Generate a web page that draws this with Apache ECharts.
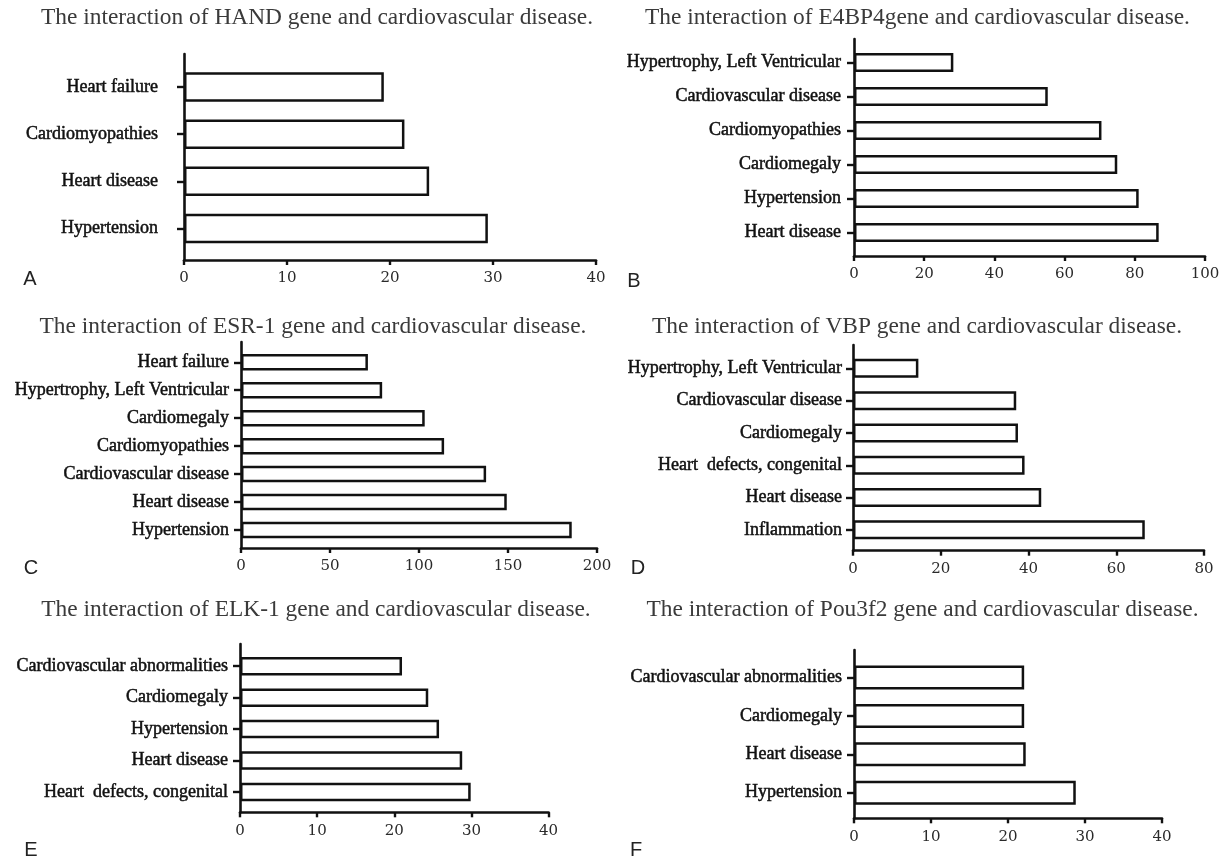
<!DOCTYPE html>
<html>
<head>
<meta charset="utf-8">
<script src="https://cdn.jsdelivr.net/npm/echarts@6/dist/echarts.min.js"></script>
<style>
html,body{margin:0;padding:0;background:#fff;}
#chart{width:1225px;height:858px;}
</style>
</head>
<body>
<div id="chart"></div>
<script>
// ---------- data ----------
const titleA = "The interaction of HAND gene and cardiovascular disease.";
const catsA = ["Heart failure", "Cardiomyopathies", "Heart disease", "Hypertension"];
const valsA = [19.4, 21.4, 23.8, 29.5];

const titleB = "The interaction of E4BP4gene and cardiovascular disease.";
const catsB = ["Hypertrophy, Left Ventricular", "Cardiovascular disease", "Cardiomyopathies", "Cardiomegaly", "Hypertension", "Heart disease"];
const valsB = [28.3, 55.2, 70.5, 75.0, 81.1, 86.8];

const titleC = "The interaction of ESR-1 gene and cardiovascular disease.";
const catsC = ["Heart failure", "Hypertrophy, Left Ventricular", "Cardiomegaly", "Cardiomyopathies", "Cardiovascular disease", "Heart disease", "Hypertension"];
const valsC = [71.3, 79.3, 103.2, 114.1, 137.7, 149.3, 185.8];

const titleD = "The interaction of VBP gene and cardiovascular disease.";
const catsD = ["Hypertrophy, Left Ventricular", "Cardiovascular disease", "Cardiomegaly", "Heart  defects, congenital", "Heart disease", "Inflammation"];
const valsD = [14.9, 37.2, 37.6, 39.1, 42.9, 66.5];

const titleE = "The interaction of ELK-1 gene and cardiovascular disease.";
const catsE = ["Cardiovascular abnormalities", "Cardiomegaly", "Hypertension", "Heart disease", "Heart  defects, congenital"];
const valsE = [21.0, 24.4, 25.8, 28.8, 29.9];

const titleF = "The interaction of Pou3f2 gene and cardiovascular disease.";
const catsF = ["Cardiovascular abnormalities", "Cardiomegaly", "Heart disease", "Hypertension"];
const valsF = [22.1, 22.1, 22.3, 28.8];

const axisMax = [40, 100, 200, 80, 40, 40];
const axisInterval = [10, 20, 50, 20, 10, 10];
const panelLetters = ["A", "B", "C", "D", "E", "F"];

// ---------- layout (pixels) ----------
const panels = [
  {title: titleA, cats: catsA, vals: valsA, left: 184, width: 412, oTop: 54,  oH: 206,   iTop: 63.5,  iH: 188.5, barW: 29.5, lblMargin: 26, tx: 317,   ty: 18,  lx: 30,  ly: 279},
  {title: titleB, cats: catsB, vals: valsB, left: 854, width: 351, oTop: 39,  oH: 217,   iTop: 45.5,  iH: 204,   barW: 19,   lblMargin: 13, tx: 917.5, ty: 18,  lx: 634, ly: 281},
  {title: titleC, cats: catsC, vals: valsC, left: 241, width: 356, oTop: 342, oH: 206,   iTop: 348.3, iH: 195.7, barW: 16.5, lblMargin: 12, tx: 313,   ty: 327, lx: 31,  ly: 568},
  {title: titleD, cats: catsD, vals: valsD, left: 853, width: 351, oTop: 345, oH: 205.7, iTop: 352.2, iH: 193.8, barW: 19,   lblMargin: 11, tx: 917,   ty: 327, lx: 638, ly: 568},
  {title: titleE, cats: catsE, vals: valsE, left: 240, width: 308.6, oTop: 644, oH: 168.3, iTop: 650.5, iH: 157.2, barW: 18.5, lblMargin: 12, tx: 316,   ty: 610, lx: 31,  ly: 850},
  {title: titleF, cats: catsF, vals: valsF, left: 854, width: 308, oTop: 650, oH: 168.3, iTop: 658.3, iH: 153.6, barW: 24,   lblMargin: 12, tx: 922.5, ty: 610, lx: 636, ly: 850}
];

const INK = '#111';
const grids = [], xAxes = [], yAxes = [], series = [], graphics = [];

panels.forEach((p, i) => {
  const go = 2 * i, gi = 2 * i + 1;
  grids.push({left: p.left, top: p.oTop, width: p.width, height: p.oH, outerBoundsMode: 'none', containLabel: false});
  grids.push({left: p.left, top: p.iTop, width: p.width, height: p.iH, outerBoundsMode: 'none', containLabel: false});

  // outer grid: visible value x-axis and the y axis line
  xAxes.push({
    gridIndex: go, type: 'value', min: 0, max: axisMax[i], interval: axisInterval[i],
    axisLine: {show: true, lineStyle: {color: INK, width: 2.6}},
    axisTick: {show: true, length: 5, lineStyle: {color: INK, width: 2.4}},
    splitLine: {show: false},
    axisLabel: {show: true, margin: 11, color: '#2a2a2a', fontFamily: 'DejaVu Serif', fontSize: 15}
  });
  yAxes.push({
    gridIndex: go, type: 'value', min: 0, max: 1,
    axisLine: {show: true, onZero: false, lineStyle: {color: INK, width: 2.6}},
    axisTick: {show: false}, axisLabel: {show: false}, splitLine: {show: false}
  });

  // inner grid: bars on category axis
  xAxes.push({gridIndex: gi, type: 'value', min: 0, max: axisMax[i], show: false});
  yAxes.push({
    gridIndex: gi, type: 'category', data: p.cats, inverse: true,
    axisLine: {show: false},
    axisTick: {show: true, alignWithLabel: true, length: 7, lineStyle: {color: INK, width: 2.4}},
    splitLine: {show: false},
    axisLabel: {
      show: true, interval: 0, margin: p.lblMargin, color: '#111',
      fontFamily: 'Liberation Serif', fontSize: 18,
      textBorderColor: '#111', textBorderWidth: 0.5
    }
  });

  series.push({
    type: 'bar', xAxisIndex: gi, yAxisIndex: gi, data: p.vals, barWidth: p.barW,
    itemStyle: {color: '#fff', borderColor: INK, borderWidth: 2.5},
    silent: true, animation: false
  });

  graphics.push({
    type: 'text', silent: true,
    style: {text: p.title, x: p.tx, y: p.ty, textAlign: 'center', textVerticalAlign: 'middle',
            fill: '#3a3a3a', font: '23.4px "Liberation Serif"'}
  });
  graphics.push({
    type: 'text', silent: true,
    style: {text: panelLetters[i], x: p.lx, y: p.ly, textAlign: 'center', textVerticalAlign: 'middle',
            fill: '#222', font: '20px "Liberation Sans"'}
  });
});

const chart = echarts.init(document.getElementById('chart'), null, {renderer: 'canvas'});
chart.setOption({
  backgroundColor: '#fff',
  animation: false,
  grid: grids,
  xAxis: xAxes,
  yAxis: yAxes,
  series: series,
  graphic: graphics
});
</script>
</body>
</html>
